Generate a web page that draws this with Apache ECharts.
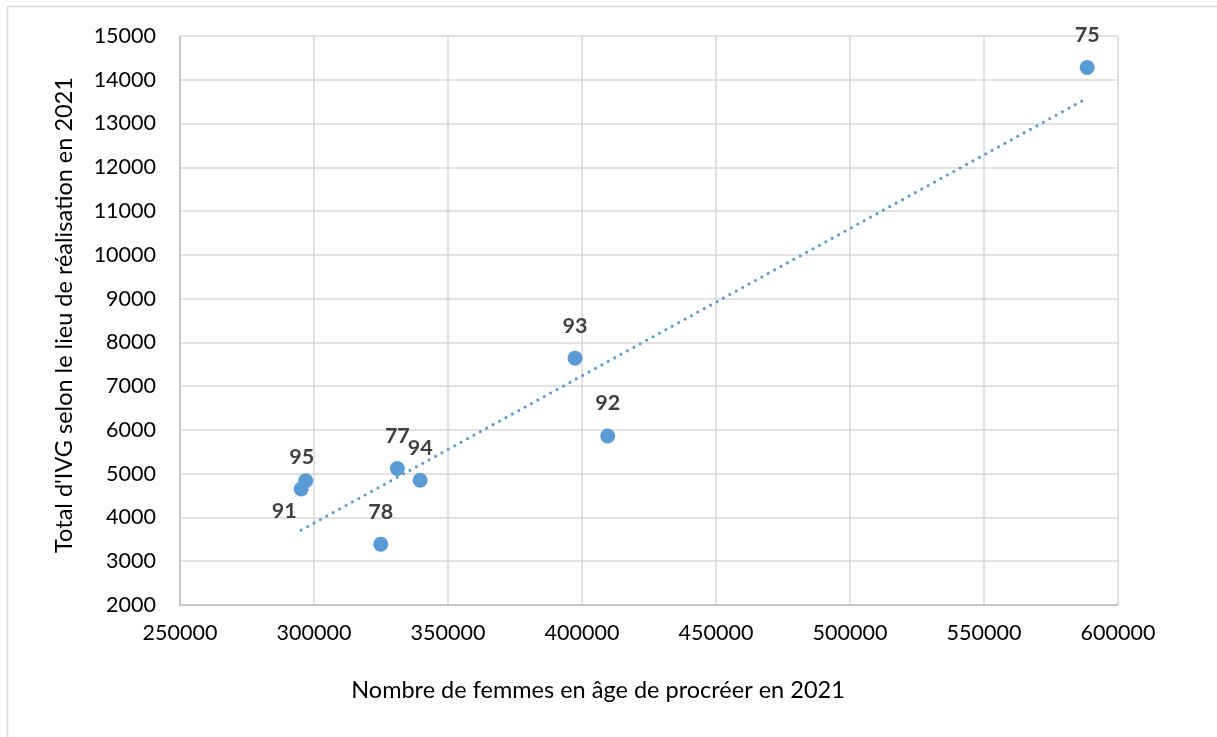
<!DOCTYPE html>
<html>
<head>
<meta charset="utf-8">
<script src="https://cdn.jsdelivr.net/npm/echarts@6/dist/echarts.min.js"></script>
<style>
html,body{margin:0;padding:0;background:#fff;}
#main{width:1217px;height:737px;}
</style>
</head>
<body>
<div id="main"></div>
<script>
// Department codes and values
const names = ['75', '93', '92', '77', '94', '95', '91', '78'];
const femmes = [588500, 397400, 409600, 331100, 339600, 296900, 295200, 324900];
const ivg = [14280, 7640, 5860, 5120, 4850, 4840, 4650, 3390];
// dotted trend line end points
const trendX = [295200, 588500];
const trendY = [3710, 13580];
const xTitle = "Nombre de femmes en âge de procréer en 2021";
const yTitle = "Total d'IVG selon le lieu de réalisation en 2021";

const FONT = 'Lato';
const labelOffsets = { '95': [-4, 9], '91': [-17, 55] };

const points = names.map((n, i) => {
  const item = { value: [femmes[i], ivg[i]], name: n };
  if (labelOffsets[n]) item.label = { offset: labelOffsets[n] };
  return item;
});

const chart = echarts.init(document.getElementById('main'), null, { renderer: 'canvas' });
chart.setOption({
  animation: false,
  backgroundColor: '#fff',
  grid: { left: 180, right: 99, top: 36, bottom: 132, containLabel: false },
  xAxis: {
    type: 'value', min: 250000, max: 600000, interval: 50000,
    axisLine: { show: true, lineStyle: { color: '#bfbfbf', width: 1.5 } },
    axisTick: { show: false },
    splitLine: { show: true, lineStyle: { color: '#d9d9d9', width: 1.5 } },
    axisLabel: { color: '#000', fontFamily: FONT, fontSize: 21.5, margin: 17, formatter: v => String(v) }
  },
  yAxis: {
    type: 'value', min: 2000, max: 15000, interval: 1000,
    axisLine: { show: true, lineStyle: { color: '#bfbfbf', width: 1.5 } },
    axisTick: { show: false },
    splitLine: { show: true, lineStyle: { color: '#d9d9d9', width: 1.5 } },
    axisLabel: { color: '#000', fontFamily: FONT, fontSize: 21.5, margin: 24, formatter: v => String(v) }
  },
  graphic: [
    { type: 'rect', shape: { x: 7.5, y: 6.5, width: 1400, height: 900 },
      style: { fill: 'none', stroke: '#d9d9d9', lineWidth: 1.5 }, silent: true },
    { type: 'text', x: 598, y: 690,
      style: { text: xTitle, fontFamily: FONT, fontSize: 23.5, fill: '#000', align: 'center', verticalAlign: 'middle' } },
    { type: 'text', x: 64, y: 315, rotation: Math.PI / 2,
      style: { text: yTitle, fontFamily: FONT, fontSize: 23.5, fill: '#000', align: 'center', verticalAlign: 'middle' } }
  ],
  series: [
    {
      type: 'line',
      data: trendX.map((x, i) => [x, trendY[i]]),
      showSymbol: false, symbol: 'none',
      lineStyle: { color: '#5b9bd5', width: 3, type: [0.1, 7.2], cap: 'round' },
      z: 1, silent: true
    },
    {
      type: 'scatter',
      data: points,
      symbolSize: 15,
      itemStyle: { color: '#5b9bd5', opacity: 1 },
      label: {
        show: true, position: 'top', distance: 14,
        formatter: p => p.name,
        fontFamily: FONT, fontSize: 21.5, fontWeight: 'bold', color: '#404040'
      },
      z: 3
    }
  ]
});
</script>
</body>
</html>
